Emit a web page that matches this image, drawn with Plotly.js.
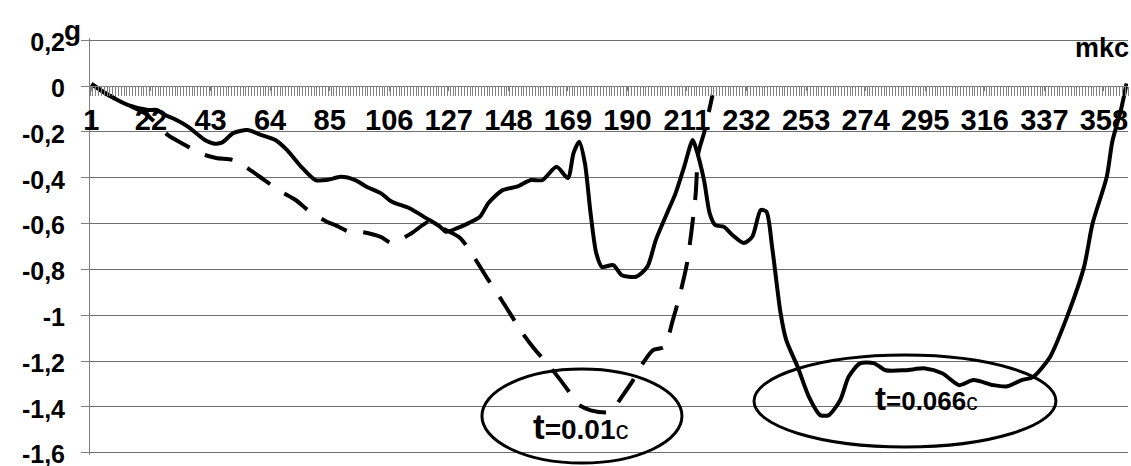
<!DOCTYPE html>
<html>
<head>
<meta charset="utf-8">
<script src="https://cdn.plot.ly/plotly-3.0.1.min.js"></script>
<style>html,body{margin:0;padding:0;background:#fff;}#chart{width:1131px;height:466px;}</style>
</head>
<body>
<div id="chart"></div>
<script>
// Category index (microseconds) and acceleration g, solid curve
const solidX = [1, 7, 14, 21, 24, 27, 31, 35, 41, 44, 47, 51, 56, 61, 66, 70, 75, 80, 84, 89, 94, 98, 103, 107, 113, 119, 124, 126, 130, 134, 138, 141, 146, 151, 156, 160, 165, 169, 171, 173, 175, 177, 179, 181, 185, 188, 193, 197, 200, 204, 207, 210, 213, 214, 217, 219, 221, 224, 227, 231, 234, 237, 239, 241, 244, 246, 250, 254, 258, 261, 265, 268, 272, 277, 281, 288, 295, 301, 307, 312, 319, 324, 329, 333, 339, 345, 351, 354, 359, 361, 364, 366];
const solidY = [0.01, -0.039, -0.083, -0.104, -0.104, -0.126, -0.148, -0.177, -0.235, -0.25, -0.247, -0.205, -0.192, -0.214, -0.236, -0.279, -0.352, -0.41, -0.41, -0.396, -0.41, -0.439, -0.467, -0.505, -0.532, -0.576, -0.614, -0.636, -0.62, -0.598, -0.57, -0.51, -0.454, -0.439, -0.41, -0.41, -0.352, -0.401, -0.292, -0.243, -0.336, -0.555, -0.729, -0.789, -0.781, -0.825, -0.832, -0.789, -0.672, -0.554, -0.467, -0.352, -0.235, -0.265, -0.41, -0.555, -0.607, -0.614, -0.65, -0.685, -0.658, -0.541, -0.548, -0.701, -0.991, -1.109, -1.225, -1.356, -1.436, -1.436, -1.371, -1.269, -1.21, -1.21, -1.24, -1.24, -1.232, -1.253, -1.305, -1.283, -1.305, -1.31, -1.283, -1.27, -1.182, -1.007, -0.789, -0.6, -0.396, -0.24, -0.104, 0.012];

// Dashed curve
const dashX = [1, 7, 14, 20, 24, 28, 34, 39, 45, 51, 56, 62, 68, 73, 78, 84, 87, 92, 96, 103, 107, 114, 120, 126, 131, 135, 141, 146, 153, 157, 163, 169, 172, 177, 184, 188, 192, 195, 199, 203, 206, 208, 211, 214, 215, 217, 220];
const dashY = [0.01, -0.039, -0.083, -0.12, -0.165, -0.214, -0.257, -0.292, -0.314, -0.323, -0.358, -0.41, -0.461, -0.497, -0.548, -0.592, -0.607, -0.636, -0.636, -0.658, -0.685, -0.641, -0.592, -0.628, -0.663, -0.729, -0.847, -0.941, -1.078, -1.144, -1.23, -1.327, -1.384, -1.415, -1.422, -1.356, -1.283, -1.218, -1.152, -1.138, -1.021, -0.934, -0.774, -0.48, -0.292, -0.205, -0.039];

// Axis tick labels
const xTickVals = [1, 22, 43, 64, 85, 106, 127, 148, 169, 190, 211, 232, 253, 274, 295, 316, 337, 358];
const xTickText = ["1", "22", "43", "64", "85", "106", "127", "148", "169", "190", "211", "232", "253", "274", "295", "316", "337", "358"];
const yTickVals = [0.2, 0, -0.2, -0.4, -0.6, -0.8, -1, -1.2, -1.4, -1.6];
const yTickText = ["0,2", "0", "-0,2", "-0,4", "-0,6", "-0,8", "-1", "-1,2", "-1,4", "-1,6"];

const FONT = 'Liberation Sans, Arial, sans-serif';
const yRange = [-1.61, 0.21];

const traces = [
  {x: solidX, y: solidY, type: 'scatter', mode: 'lines',
   line: {color: '#000', width: 4, shape: 'spline', smoothing: 0.7}, hoverinfo: 'skip'},
  {x: dashX, y: dashY, type: 'scatter', mode: 'lines',
   line: {color: '#000', width: 4, shape: 'spline', smoothing: 0.7, dash: '28px,17px'}, hoverinfo: 'skip'}
];

const layout = {
  width: 1131, height: 466,
  margin: {l: 90, r: 3, t: 38, b: 11, pad: 0},
  paper_bgcolor: '#fff', plot_bgcolor: '#fff',
  showlegend: false,
  font: {family: FONT, color: '#000'},
  xaxis: {
    type: 'linear', range: [0.5, 366.5], anchor: 'free',
    position: (0 - yRange[0]) / (yRange[1] - yRange[0]), side: 'bottom',
    showline: true, linecolor: '#808080', linewidth: 1,
    showgrid: false, zeroline: false,
    tickmode: 'array', tickvals: xTickVals, ticktext: xTickText,
    ticks: 'outside', ticklen: 4, tickcolor: '#808080', tickwidth: 1,
    minor: {ticks: 'outside', ticklen: 9, tickmode: 'linear', tick0: 0.5, dtick: 1, tickcolor: '#808080', tickwidth: 1, showgrid: false},
    tickfont: {family: FONT, size: 29, color: '#000', weight: 'bold'},
    ticklabelstandoff: 4,
    ticklabeloverflow: 'allow',
    fixedrange: true
  },
  yaxis: {
    range: yRange,
    tickmode: 'array', tickvals: yTickVals, ticktext: yTickText,
    showgrid: true, gridcolor: '#6e6e6e', gridwidth: 1,
    showline: true, linecolor: '#808080', linewidth: 1,
    zeroline: false,
    ticks: 'outside', ticklen: 8, tickcolor: '#808080',
    tickfont: {family: FONT, size: 25, color: '#000', weight: 'bold'},
    ticklabelstandoff: 11,
    ticklabelshift: 2,
    ticklabeloverflow: 'allow',
    fixedrange: true
  },
  shapes: [
    {type: 'circle', xref: 'paper', yref: 'paper', x0: 0.3776, x1: 0.5703, y0: -0.0192, y1: 0.2062,
     line: {color: '#000', width: 3}, fillcolor: 'rgba(0,0,0,0)', layer: 'above'},
    {type: 'circle', xref: 'paper', yref: 'paper', x0: 0.6397, x1: 0.9306, y0: 0.0192, y1: 0.2398,
     line: {color: '#000', width: 3}, fillcolor: 'rgba(0,0,0,0)', layer: 'above'}
  ],
  annotations: [
    {text: '<b>g</b>', xref: 'paper', yref: 'paper', x: -0.0164, y: 1.0168, xanchor: 'center', yanchor: 'middle',
     showarrow: false, font: {family: FONT, size: 28, color: '#000'}},
    {text: '<b>mkc</b>', xref: 'paper', yref: 'paper', x: 1.0025, y: 0.976, xanchor: 'right', yanchor: 'middle',
     showarrow: false, font: {family: FONT, size: 27, color: '#000'}},
    {text: "<b><span style='font-size:35px'>t</span>=0.01</b><span style='font-size:26px'>c</span>",
     xref: 'paper', yref: 'paper', x: 0.4735, y: 0.0695, xanchor: 'center', yanchor: 'middle',
     showarrow: false, font: {family: FONT, size: 28, color: '#000'}},
    {text: "<b><span style='font-size:33px'>t</span>=0.066</b><span style='font-size:23px'>c</span>",
     xref: 'paper', yref: 'paper', x: 0.806, y: 0.1343, xanchor: 'center', yanchor: 'middle',
     showarrow: false, font: {family: FONT, size: 26, color: '#000'}}
  ]
};

Plotly.newPlot('chart', traces, layout, {staticPlot: true, displayModeBar: false});
</script>
</body>
</html>
